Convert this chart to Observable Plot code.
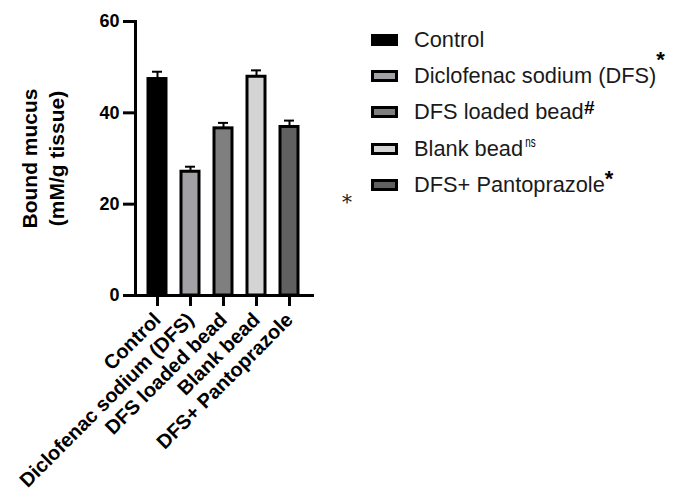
<!DOCTYPE html>
<html>
<head>
<meta charset="utf-8">
<script src="https://cdn.jsdelivr.net/npm/d3@7"></script>
<script src="https://cdn.jsdelivr.net/npm/@observablehq/plot@0.6"></script>
<style>
  html, body { margin: 0; padding: 0; background: #fff; }
  #wrap { position: relative; width: 673px; height: 502px; font-family: Arial, "Liberation Sans", sans-serif; }
  #legend { position: absolute; left: 0; top: 0; }
  .row { position: absolute; left: 371px; height: 20px; display: flex; align-items: center; white-space: nowrap; }
  .sw { width: 21px; height: 6px; border: 3px solid #000; margin-right: 16px; flex: none; }
  .lt { font-size: 21.8px; color: #1a1a1a; }
  .sup { position: relative; font-weight: bold; color: #000; }
  #star { position: absolute; left: 342px; top: 190px; font-family: "DejaVu Serif", serif; font-size: 20px; color: #222; }
</style>
</head>
<body>
<div id="wrap"></div>
<script>
const groups = ["Control", "Diclofenac sodium (DFS)", "DFS loaded bead", "Blank bead", "DFS+ Pantoprazole"];
const means = [47.4, 27.1, 36.6, 47.9, 36.9];
const sems = [1.6, 1.1, 1.2, 1.4, 1.4];
const fills = ["#000000", "#a1a1a6", "#7f7f7f", "#d4d4d4", "#606060"];
const yTicks = [0, 20, 40, 60];
const legendMarks = ["*", "#", "ns", "*"];

const data = groups.map((g, i) => ({group: g, mean: means[i], sem: sems[i], fill: fills[i]}));

const chart = Plot.plot({
  width: 673,
  height: 502,
  marginLeft: 135,
  marginRight: 361,
  marginTop: 21,
  marginBottom: 207,
  style: {fontFamily: "Arial, 'Liberation Sans', sans-serif", background: "#fff", overflow: "visible"},
  x: {domain: groups, paddingInner: 0.45, paddingOuter: 0.39},
  y: {domain: [0, 60]},
  marks: [
    Plot.barY(data, {x: "group", y: "mean", fill: "fill", stroke: "#000", strokeWidth: 3}),
    Plot.ruleX(data, {x: "group", y1: "mean", y2: d => d.mean + d.sem, stroke: "#000", strokeWidth: 2}),
    Plot.tickY(data, {x: "group", y: d => d.mean + d.sem, stroke: "#000", strokeWidth: 2, inset: 4}),
    Plot.frame({anchor: "left", stroke: "#000", strokeWidth: 3}),
    Plot.frame({anchor: "bottom", stroke: "#000", strokeWidth: 3}),
    Plot.axisY({ticks: yTicks, tickSize: 12, tickPadding: 4, strokeWidth: 3, fontSize: 18, fontWeight: "bold", fill: "#000", label: null}),
    Plot.axisX({tickSize: 11, tickPadding: 10, strokeWidth: 3, tickRotate: -45, fontSize: 20, fontWeight: "bold", fill: "#000", label: null}),
    Plot.text(["Bound mucus\n(mM/g tissue)"], {frameAnchor: "left", textAnchor: "middle", rotate: -90, dx: -94, lineHeight: 1.28, fontSize: 21, fontWeight: "bold", fill: "#000"})
  ]
});
const wrap = document.getElementById("wrap");
wrap.appendChild(chart);

const legend = document.createElement("div");
legend.id = "legend";
const rowY = [30, 66, 102, 139, 175];
groups.forEach((g, i) => {
  const row = document.createElement("div");
  row.className = "row";
  row.style.top = rowY[i] + "px";
  const sw = document.createElement("div");
  sw.className = "sw";
  sw.style.background = fills[i];
  const t = document.createElement("span");
  t.className = "lt";
  t.textContent = g;
  row.appendChild(sw);
  row.appendChild(t);
  if (i > 0) {
    const m = legendMarks[i - 1];
    const s = document.createElement("span");
    s.className = "sup";
    s.textContent = m;
    if (m === "ns") {
      s.style.fontWeight = "normal";
      s.style.fontSize = "14px";
      s.style.top = "-7px";
      s.style.marginLeft = "0px";
      s.style.display = "inline-block";
      s.style.transform = "scaleX(0.7)";
    } else if (m === "#") {
      s.style.fontSize = "19px";
      s.style.top = "-4px";
      s.style.fontStyle = "italic";
    } else {
      s.style.fontSize = "22px";
      s.style.top = i === 1 ? "-16px" : "-6px";
    }
    row.appendChild(s);
  }
  legend.appendChild(row);
});
wrap.appendChild(legend);
const star = document.createElement("div");
star.id = "star";
star.textContent = "*";
wrap.appendChild(star);
</script>
</body>
</html>
